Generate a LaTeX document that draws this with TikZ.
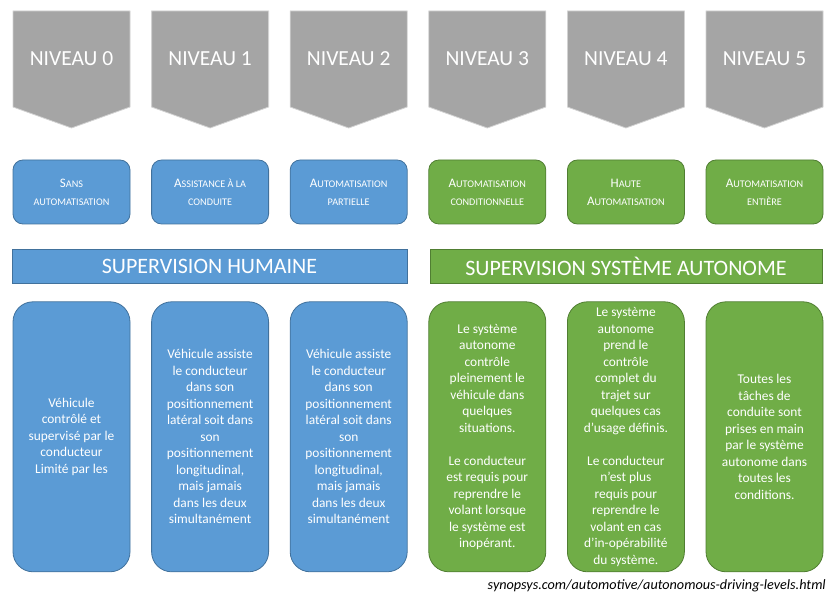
\documentclass[tikz,border=0pt]{standalone}
\usepackage{fontspec}
\setmainfont{Carlito}
\usetikzlibrary{positioning}
\definecolor{gris}{HTML}{A5A5A5}
\definecolor{bleu}{HTML}{5B9BD5}
\definecolor{bleufonce}{HTML}{41719C}
\definecolor{vert}{HTML}{70AD47}
\definecolor{vertfonce}{HTML}{507E32}
% petites capitales simulees
\newcommand{\pcap}[1]{{\fontsize{10.2}{18}\selectfont #1}}

\begin{document}
\begin{tikzpicture}[x=1pt, y=-1pt,
  niveau/.style={text=white, font=\fontsize{21.5}{24}\selectfont},
  etiquette/.style={draw, rounded corners=10pt, line width=0.8pt, minimum width=117pt,
    minimum height=64pt, text=white, align=center, font=\fontsize{13}{18}\selectfont},
  bandeau/.style={draw, line width=0.8pt, minimum height=34pt, text=white,
    font=\fontsize{22}{24}\selectfont},
  detail/.style={draw, rounded corners=20pt, line width=0.8pt, minimum width=117pt,
    minimum height=270pt, text=white, align=center, font=\fontsize{13.4}{16.5}\selectfont},
  humain/.style={fill=bleu, draw=bleufonce},
  autonome/.style={fill=vert, draw=vertfonce}]
\useasboundingbox (0,0) rectangle (828,596);
% Niveaux
\foreach \i in {0,...,5} {
  \pgfmathsetmacro\gx{13+138.6*\i}
  \draw[fill=gris, draw=gray!35, line width=0.8pt] (\gx,11) -- ++(117,0) -- ++(0,96)
    -- ++(-58.5,21) -- ++(-58.5,-21) -- cycle;
  \node[niveau] (niv\i) at (\gx+58.5,59) {NIVEAU \i};
}
% Etiquettes
\node[etiquette, humain] (etq0) at (71.5,192) {S\pcap{ANS}\\\pcap{AUTOMATISATION}};
\node[etiquette, humain] (etq1) at (210.1,192) {A\pcap{SSISTANCE À LA}\\\pcap{CONDUITE}};
\node[etiquette, humain] (etq2) at (348.7,192) {A\pcap{UTOMATISATION}\\\pcap{PARTIELLE}};
\node[etiquette, autonome] (etq3) at (487.3,192) {A\pcap{UTOMATISATION}\\\pcap{CONDITIONNELLE}};
\node[etiquette, autonome] (etq4) at (625.9,192) {H\pcap{AUTE}\\A\pcap{UTOMATISATION}};
\node[etiquette, autonome] (etq5) at (764.5,192) {A\pcap{UTOMATISATION}\\\pcap{ENTIÈRE}};
% Bandeaux
\node[bandeau, humain, minimum width=395pt] (superh) at (209.5,266) {SUPERVISION HUMAINE};
\node[bandeau, autonome, minimum width=392pt] (supera) at (626,266) {SUPERVISION SYSTÈME AUTONOME};
% Descriptions
\node[detail, humain, below=77pt of etq0] (desc0) {Véhicule\\contrôlé et\\supervisé par le\\conducteur\\Limité par les};
\node[detail, humain, below=77pt of etq1] (desc1) {Véhicule assiste\\le conducteur\\dans son\\positionnement\\latéral soit dans\\son\\positionnement\\longitudinal,\\mais jamais\\dans les deux\\simultanément};
\node[detail, humain, below=77pt of etq2] (desc2) {Véhicule assiste\\le conducteur\\dans son\\positionnement\\latéral soit dans\\son\\positionnement\\longitudinal,\\mais jamais\\dans les deux\\simultanément};
\node[detail, autonome, below=77pt of etq3] (desc3) {Le système\\autonome\\contrôle\\pleinement le\\véhicule dans\\quelques\\situations.\\[16.5pt]Le conducteur\\est requis pour\\reprendre le\\volant lorsque\\le système est\\inopérant.};
\node[detail, autonome, below=77pt of etq4] (desc4) {Le système\\autonome\\prend le\\contrôle\\complet du\\trajet sur\\quelques cas\\d’usage définis.\\[16.5pt]Le conducteur\\n’est plus\\requis pour\\reprendre le\\volant en cas\\d’in-opérabilité\\du système.};
\node[detail, autonome, below=77pt of etq5] (desc5) {Toutes les\\tâches de\\conduite sont\\prises en main\\par le système\\autonome dans\\toutes les\\conditions.};
% Source
\node[anchor=base east, inner sep=0pt, font=\fontsize{14.2}{16}\selectfont\itshape] (source) at (826,589) {synopsys.com/automotive/autonomous-driving-levels.html};
\end{tikzpicture}
\end{document}
